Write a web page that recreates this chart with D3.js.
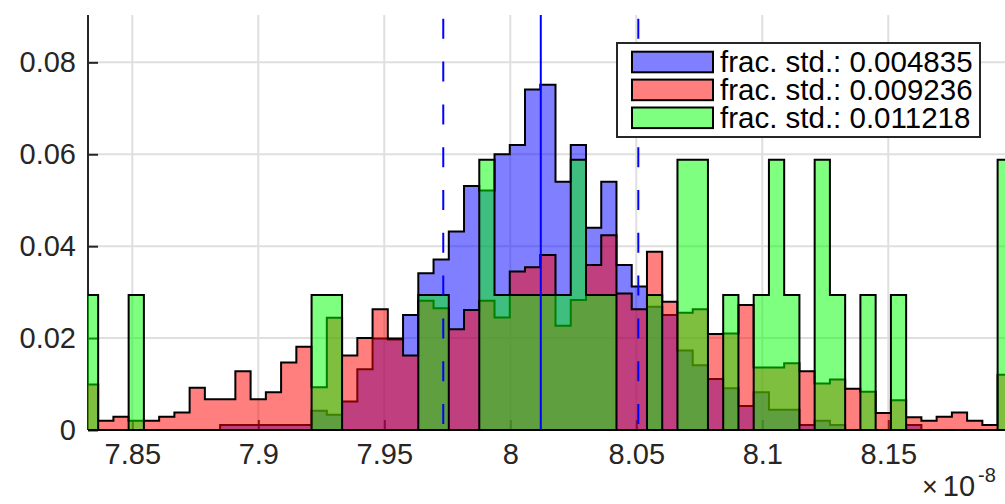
<!DOCTYPE html>
<html><head><meta charset="utf-8">
<script src="https://cdn.jsdelivr.net/npm/d3@7"></script>
<style>body{margin:0;background:#fff;overflow:hidden}text{font-family:"Liberation Sans",Arial,sans-serif;fill:#262626}</style>
</head><body>
<svg id="c" width="1005" height="504"></svg>
<script>
// ---- data ----
const binStart = 7.83040;      // first bin edge (x 1e-8)
const binWidth = 0.0060496;    // common bin width
const blueVals = [0,0,0,0,0,0,0,0,0,0.0011,0.0011,0.0011,0.0011,0.0011,0.0011,0.0042,0.0033,0.0062,0.0132,0.0199,0.0197,0.0250,
  0.0341,0.0371,0.0432,0.0531,0.0521,0.0600,0.0620,0.0741,0.0751,0.0540,0.0620,0.0440,0.0540,0.0359,0.0312,0.0268,0.0250,0.0173,0.0141,0.0111,0.0091,0.0052,
  0.0082,0.0044,0.0044,0.0011,0.0020,0.0011,0,0,0,0,0.0011,0,0,0,0,0,0];
const redVals = [0.0099,0.0020,0.0029,0.0020,0.0020,0.0029,0.0038,0.0092,0.0067,0.0067,0.0128,0.0067,0.0082,0.0147,0.0181,0.0093,0.0244,0.0162,0.0200,0.0263,0.0199,0.0162,
  0.0281,0.0265,0.0219,0.0261,0.0281,0.0245,0.0345,0.0354,0.0381,0.0227,0.0283,0.0359,0.0424,0.0297,0.0263,0.0388,0.0279,0.0255,0.0263,0.0209,0.0210,0.0272,
  0.0136,0.0136,0.0145,0.0128,0.0101,0.0110,0.0090,0.0083,0.0037,0.0065,0.0028,0.0020,0.0029,0.0038,0.0020,0.0011,0.0120];
const greenVals = [0.0294,0,0,0.0294,0,0,0,0,0,0,0,0,0,0,0,0.0294,0.0294,0,0,0,0,0,
  0.0294,0.0294,0,0,0.0588,0.0294,0.0294,0.0294,0.0294,0.0294,0.0588,0.0294,0.0294,0,0,0.0294,0,0.0588,0.0588,0,0.0294,0,
  0.0294,0.0588,0.0294,0,0.0588,0.0294,0,0.0294,0,0.0294,0,0,0,0,0,0,0.0588];
const seriesNames = ["frac. std.: 0.004835","frac. std.: 0.009236","frac. std.: 0.011218"];
const seriesColors = ["#0000ff","#ff0000","#00ff00"];
const xTicks = [7.85,7.9,7.95,8,8.05,8.1,8.15];
const yTicks = [0,0.02,0.04,0.06,0.08];
const meanValue = 8.0121;
const stdBounds = [7.9734, 8.0508];
const xDomain = [7.83242, 8.19631];
const yDomain = [0, 0.0903];

// ---- layout ----
const L = 88, R = 1005, T = 15, B = 430;
const svg = d3.select("#c");
const x = d3.scaleLinear().domain(xDomain).range([L, R]);
const y = d3.scaleLinear().domain(yDomain).range([B, T]);

svg.append("defs").append("clipPath").attr("id","clip")
  .append("rect").attr("x",L).attr("y",0).attr("width",R-L).attr("height",B+2);

// grid
const grid = svg.append("g");
grid.selectAll(".gx").data(xTicks).join("line")
  .attr("x1",d=>x(d)).attr("x2",d=>x(d)).attr("y1",T).attr("y2",B)
  .attr("stroke","#dfdfdf").attr("stroke-width",2);
grid.selectAll(".gy").data(yTicks.filter(d=>d>0)).join("line")
  .attr("x1",L).attr("x2",R).attr("y1",d=>y(d)).attr("y2",d=>y(d))
  .attr("stroke","#dfdfdf").attr("stroke-width",2);

// axes (below data)
const yAxis = d3.axisLeft(y).tickValues(yTicks).tickSize(-10).tickPadding(12).tickFormat(d=>d===0?"0":d3.format(".2f")(d));
const gy = svg.append("g").attr("transform",`translate(${L},0)`).call(yAxis);
gy.select(".domain").attr("stroke","#262626").attr("stroke-width",2).attr("d",`M0,${T}V${B}`);
gy.selectAll(".tick line").attr("stroke","#262626").attr("stroke-width",2);
gy.selectAll(".tick text").attr("font-size",29).attr("fill","#262626").attr("font-family","Liberation Sans, Arial, sans-serif");

const xAxis = d3.axisBottom(x).tickValues(xTicks).tickSize(-10).tickPadding(13).tickFormat(d=>String(+d.toFixed(2)));
const gx = svg.append("g").attr("transform",`translate(0,${B})`).call(xAxis);
gx.select(".domain").attr("stroke","#262626").attr("stroke-width",2).attr("d",`M${L},0H${R}`);
gx.selectAll(".tick line").attr("stroke","#262626").attr("stroke-width",2);
gx.selectAll(".tick text").attr("font-size",29).attr("fill","#262626").attr("font-family","Liberation Sans, Arial, sans-serif");

// histograms
function histPath(vals){
  const p = d3.path();
  const e = i => x(binStart + i*binWidth);
  p.moveTo(e(0), y(0));
  vals.forEach((v,i)=>{ p.lineTo(e(i), y(v)); p.lineTo(e(i+1), y(v)); });
  p.lineTo(e(vals.length), y(0));
  p.closePath();
  return p.toString();
}
const hg = svg.append("g").attr("clip-path","url(#clip)");
[blueVals, redVals, greenVals].forEach((vals,i)=>{
  hg.append("path").attr("d",histPath(vals))
    .attr("fill",seriesColors[i]).attr("fill-opacity",0.5)
    .attr("stroke","#000").attr("stroke-width",2).attr("stroke-linejoin","miter");
});

// reference lines
svg.append("line").attr("x1",x(meanValue)).attr("x2",x(meanValue)).attr("y1",T).attr("y2",B)
  .attr("stroke","#0000ff").attr("stroke-width",2);
svg.selectAll(".sd").data(stdBounds).join("line")
  .attr("x1",d=>x(d)).attr("x2",d=>x(d)).attr("y1",T).attr("y2",B)
  .attr("stroke","#0000ff").attr("stroke-width",2)
  .attr("stroke-dasharray","20 22.8").attr("stroke-dashoffset",39);

// legend
const lg = svg.append("g");
lg.append("rect").attr("x",617).attr("y",43).attr("width",363).attr("height",94)
  .attr("fill","#fff").attr("stroke","#262626").attr("stroke-width",2);
seriesNames.forEach((name,i)=>{
  const cy = 62 + i*27.9;
  lg.append("rect").attr("x",632).attr("y",cy-10.3).attr("width",81).attr("height",20.6)
    .attr("fill",seriesColors[i]).attr("fill-opacity",0.5).attr("stroke","#000").attr("stroke-width",2);
  lg.append("text").attr("x",720).attr("y",cy+10).attr("font-size",29.5).style("fill","#000").text(name);
});

// exponent label
const ex = svg.append("text").attr("x",922).attr("y",496).attr("font-size",29);
ex.append("tspan").attr("font-size",27).text("×");
ex.append("tspan").attr("dx",5).text("10");
ex.append("tspan").attr("font-size",20).attr("dx",3).attr("dy",-14).text("-8");
</script>
</body></html>
